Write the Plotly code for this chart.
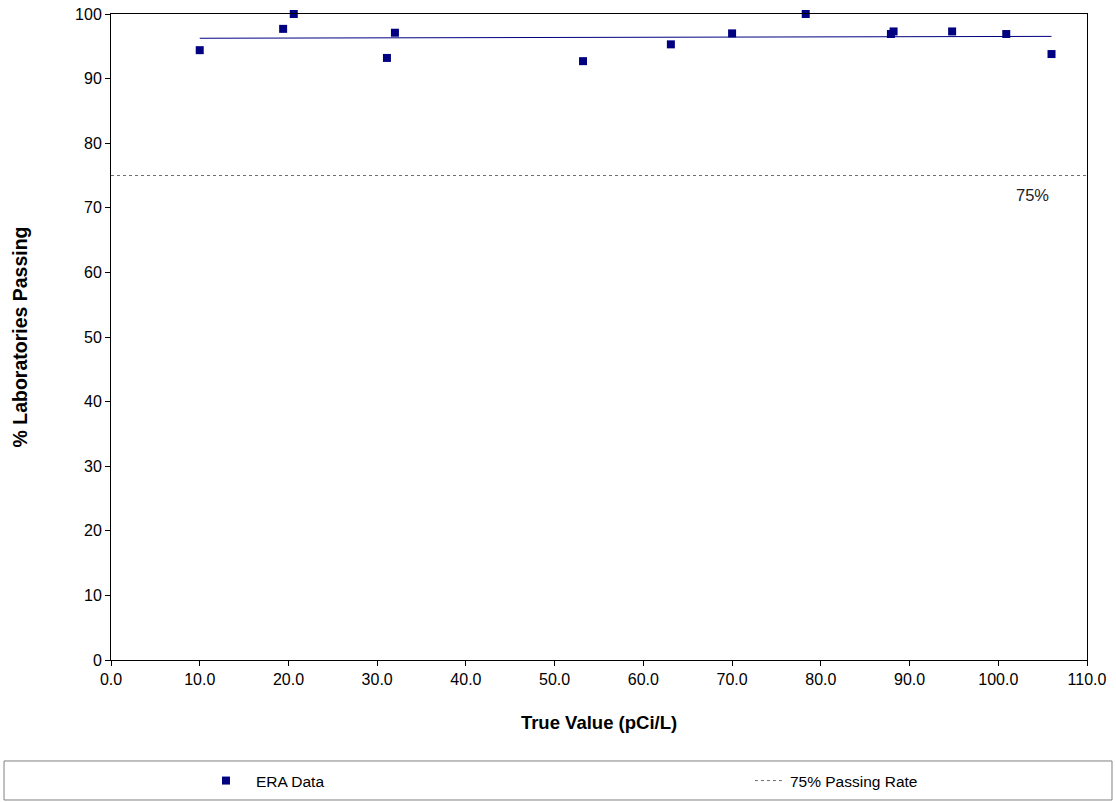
import numpy as np
import plotly.graph_objects as go

# Data
true_value = [10.0, 19.4, 20.6, 31.1, 32.0, 53.2, 63.1, 70.0, 78.3, 87.9, 88.2, 94.8, 100.9, 106.0]
pct_passing = [94.4, 97.7, 100.0, 93.2, 97.1, 92.7, 95.3, 97.0, 100.0, 96.9, 97.3, 97.3, 96.9, 93.8]
pass_rate = 75
x_range = [0, 110]
x_ticks = [0, 10, 20, 30, 40, 50, 60, 70, 80, 90, 100, 110]
y_ticks = [0, 10, 20, 30, 40, 50, 60, 70, 80, 90, 100]

# linear trend line of the data
slope, intercept = np.polyfit(true_value, pct_passing, 1)
trend_x = [min(true_value), max(true_value)]
trend_y = [slope * v + intercept for v in trend_x]

FONT = "Liberation Sans, Arial, sans-serif"

fig = go.Figure()
fig.add_trace(go.Scatter(
    x=true_value, y=pct_passing, mode="markers", name="ERA Data",
    marker=dict(symbol="square", size=8, color="#000080"),
    cliponaxis=False, legend="legend",
))
fig.add_trace(go.Scatter(
    x=trend_x, y=trend_y, mode="lines", showlegend=False,
    line=dict(color="#000080", width=1), hoverinfo="skip",
))
fig.add_trace(go.Scatter(
    x=x_range, y=[pass_rate, pass_rate], mode="lines", name="75% Passing Rate",
    line=dict(color="#6e6e6e", width=1, dash="3px,3px"), legend="legend2",
))

fig.add_annotation(x=103.9, y=72.0, xref="x", yref="y", text="75%", showarrow=False,
                   font=dict(family=FONT, size=16.5, color="#222222"))

# legend frame
fig.add_shape(type="rect", xref="paper", yref="paper",
              x0=-0.1096, x1=1.0256, y0=-0.2167, y1=-0.1563,
              line=dict(color="#808080", width=1), fillcolor="rgba(0,0,0,0)")

leg_common = dict(orientation="h", xref="container", yref="container", xanchor="left",
                  y=0.0262, yanchor="middle",
                  font=dict(family=FONT, size=15.5, color="black"),
                  bgcolor="rgba(0,0,0,0)", borderwidth=0)

fig.update_layout(
    width=1116, height=802,
    margin=dict(l=111, r=29, t=14, b=142),
    paper_bgcolor="white", plot_bgcolor="white",
    font=dict(family=FONT, size=16, color="black"),
    showlegend=True,
    legend=dict(x=0.1756, itemwidth=50, **leg_common),
    legend2=dict(x=0.672, **leg_common),
    xaxis=dict(range=x_range, tickvals=x_ticks, ticktext=[f"{v:.1f}" for v in x_ticks],
               showgrid=False, zeroline=False, showline=True, linecolor="black", linewidth=1,
               mirror=True, ticks="outside", ticklen=5, tickcolor="black", automargin=False,
               tickfont=dict(family=FONT, size=16), ticklabeloverflow="allow",
               title=dict(text="<b>True Value (pCi/L)</b>", font=dict(family=FONT, size=18.5), standoff=28)),
    yaxis=dict(range=[0, 100], tickvals=y_ticks, showgrid=False, zeroline=False,
               showline=True, linecolor="black", linewidth=1, mirror=True, automargin=False,
               ticks="outside", ticklen=5, tickcolor="black",
               tickfont=dict(family=FONT, size=16), ticklabeloverflow="allow",
               title=dict(text="<b>% Laboratories Passing</b>", font=dict(family=FONT, size=19.5), standoff=42)),
)

fig.write_html("out.html", config={"displayModeBar": False},
               post_script="document.body.style.margin='0';document.body.style.overflow='hidden';")
